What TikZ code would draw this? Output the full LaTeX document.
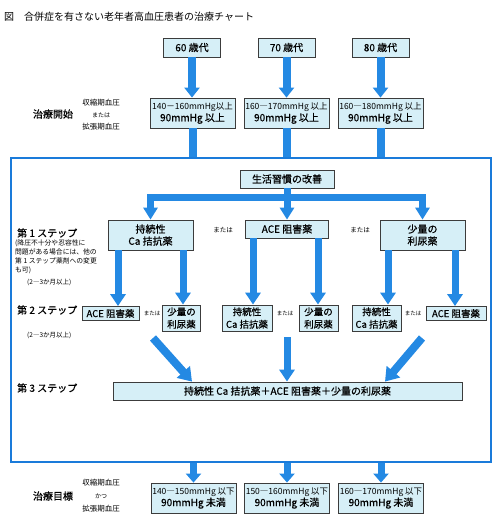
\documentclass[tikz,border=0pt]{standalone}
\usepackage{fontspec}
\setmainfont{Noto Sans CJK JP}
\newfontfamily\medfont{Noto Sans CJK JP}[FakeBold=0.6]
\usetikzlibrary{arrows.meta,calc}
\definecolor{ablue}{HTML}{2489E3}
\definecolor{fblue}{HTML}{1A7BDA}
\definecolor{bfill}{HTML}{D6EFF7}
\definecolor{bdraw}{HTML}{3C3C3C}
\newcommand\myfs[2]{\fontsize{#1}{#2}\selectfont}
\begin{document}
\begin{tikzpicture}[x=1pt,y=-1pt,
  box/.style={draw=bdraw, fill=bfill, line width=0.8pt, inner sep=0pt, align=center, font=\medfont\myfs{10}{12}},
  thbox/.style={box, minimum width=85pt, minimum height=30pt},
  s2box/.style={box, font=\medfont\myfs{9.5}{12.5}},
  lab/.style={inner sep=0pt},
  bigarr/.style={draw=ablue, line width=8pt, -{Triangle[width=15pt,length=10pt]}},
  barline/.style={draw=ablue, line width=8pt},
  distarr/.style={draw=ablue, line width=7pt, line join=miter, -{Triangle[width=14pt,length=12pt]}},
  steparr/.style={draw=ablue, line width=7pt, -{Triangle[width=15pt,length=12pt]}},
  diagarr/.style={draw=ablue, line width=8pt, -{Triangle[width=17pt,length=13pt]}},
  botarr/.style={draw=ablue, line width=7pt, -{Triangle[width=15pt,length=9pt]}}
]
\useasboundingbox (0,0) rectangle (500,522);

% title
\node[lab, anchor=west, font=\myfs{10}{12}] (title) at (4,17) {図　合併症を有さない老年者高血圧患者の治療チャート};

% age boxes
\node[box, minimum width=57pt, minimum height=19pt] (a1) at (192,47.5) {60 歳代};
\node[box, minimum width=57pt, minimum height=19pt] (a2) at (286.5,47.5) {70 歳代};
\node[box, minimum width=57pt, minimum height=19pt] (a3) at (380.5,47.5) {80 歳代};

% thresholds
\node[thbox] (t1) at (192.5,113) {{\rmfamily\myfs{8.5}{12}140－160mmHg以上}\\90mmHg 以上};
\node[thbox] (t2) at (286.5,113) {{\rmfamily\myfs{8.5}{12}160―170mmHg 以上}\\90mmHg 以上};
\node[thbox] (t3) at (380.5,113) {{\rmfamily\myfs{8.5}{12}160―180mmHg 以上}\\90mmHg 以上};

\draw[bigarr] (a1.south) -- (a1.south |- t1.north);
\draw[bigarr] (a2.south) -- (a2.south |- t2.north);
\draw[bigarr] (a3.south) -- (a3.south |- t3.north);

\node[lab, font=\medfont\myfs{10}{12}] (kaishi) at (53,114) {治療開始};
\node[lab, font=\myfs{7.5}{9}] (k1) at (101,103) {収縮期血圧};
\node[lab, font=\myfs{6}{8}] (k2) at (101,115) {または};
\node[lab, font=\myfs{7.5}{9}] (k3) at (101,127) {拡張期血圧};

% frame
\node[draw=fblue, line width=2pt, minimum width=480pt, minimum height=304pt, inner sep=0pt] (frame) at (251,310) {};
\draw[barline] (t1.south) -- (t1.south |- frame.north);
\draw[barline] (t2.south) -- (t2.south |- frame.north);
\draw[barline] (t3.south) -- (t3.south |- frame.north);

% lifestyle
\node[box, minimum width=94pt, minimum height=18pt] (life) at (287,179) {生活習慣の改善};
\coordinate (hub) at (287,197);

% step 1
\node[box, minimum width=85pt, minimum height=30pt] (s1a) at (150.5,235) {持続性\\Ca 拮抗薬};
\node[box, minimum width=83pt, minimum height=18pt] (s1b) at (287,229) {ACE 阻害薬};
\node[box, minimum width=85pt, minimum height=30pt] (s1c) at (422.5,235) {少量の\\利尿薬};
\node[lab, font=\myfs{6.5}{8}] (or1) at (223,230) {または};
\node[lab, font=\myfs{6.5}{8}] (or2) at (360,230) {または};

\draw[distarr] (life.south) -- (hub) -| (s1a.north);
\draw[distarr] (life.south) -- (hub) -| (s1c.north);
\draw[distarr] (life.south) -- (s1b.north);

% step 2
\node[s2box, minimum width=57pt, minimum height=14pt] (s2a) at (110.5,313.5) {ACE 阻害薬};
\node[s2box, minimum width=38pt, minimum height=26pt] (s2b) at (181.5,318) {少量の\\利尿薬};
\node[s2box, minimum width=50pt, minimum height=26pt] (s2c) at (247,318) {持続性\\Ca 拮抗薬};
\node[s2box, minimum width=39pt, minimum height=26pt] (s2d) at (318.5,318) {少量の\\利尿薬};
\node[s2box, minimum width=49pt, minimum height=26pt] (s2e) at (376.5,318) {持続性\\Ca 拮抗薬};
\node[s2box, minimum width=60pt, minimum height=14pt] (s2f) at (456,313.5) {ACE 阻害薬};
\node[lab, font=\myfs{5.5}{7}] (or3) at (152,313) {または};
\node[lab, font=\myfs{5.5}{7}] (or4) at (285,313) {または};
\node[lab, font=\myfs{5.5}{7}] (or5) at (413,313) {または};

\draw[steparr] ([xshift=-32.5pt]s1a.south) -- ([xshift=-32.5pt]s1a.south |- s2a.north);
\draw[steparr] ([xshift=32.5pt]s1a.south) -- ([xshift=32.5pt]s1a.south |- s2b.north);
\draw[steparr] ([xshift=-34pt]s1b.south) -- ([xshift=-34pt]s1b.south |- s2c.north);
\draw[steparr] ([xshift=31pt]s1b.south) -- ([xshift=31pt]s1b.south |- s2d.north);
\draw[steparr] ([xshift=-34.5pt]s1c.south) -- ([xshift=-34.5pt]s1c.south |- s2e.north);
\draw[steparr] ([xshift=32.5pt]s1c.south) -- ([xshift=32.5pt]s1c.south |- s2f.north);

% step 3
\node[box, minimum width=349pt, minimum height=18pt] (s3) at (287.5,391) {持続性 Ca 拮抗薬＋ACE 阻害薬＋少量の利尿薬};
\coordinate (d1) at (153,338);
\coordinate (d2) at (287,337);
\coordinate (d3) at (422,338);
\draw[diagarr] (d1) -- ([xshift=-95.5pt]s3.north);
\draw[steparr] (d2) -- (d2 |- s3.north);
\draw[diagarr] (d3) -- ([xshift=97.5pt]s3.north);

% left step labels
\node[lab, anchor=west, font=\medfont\myfs{10}{12}] (st1) at (17,233) {第 1 ステップ};
\node[lab, anchor=north west, align=left, font=\myfs{6.8}{9}] (note) at (15,240) {(降圧不十分や忍容性に\\問題がある場合には、他の\\第 1 ステップ薬剤への変更\\も可)};
\node[lab, anchor=west, font=\myfs{6.5}{8}] (p1) at (27,282) {(2―3か月以上)};
\node[lab, anchor=west, font=\medfont\myfs{10}{12}] (st2) at (17,310) {第 2 ステップ};
\node[lab, anchor=west, font=\myfs{6.5}{8}] (p2) at (27,335) {(2―3か月以上)};
\node[lab, anchor=west, font=\medfont\myfs{10}{12}] (st3) at (17,388) {第 3 ステップ};

% bottom targets
\node[thbox] (b1) at (193.5,498) {{\rmfamily\myfs{8.5}{12}140―150mmHg 以下}\\90mmHg 未満};
\node[thbox] (b2) at (287,498) {{\rmfamily\myfs{8.5}{12}150―160mmHg 以下}\\90mmHg 未満};
\node[thbox] (b3) at (381,498) {{\rmfamily\myfs{8.5}{12}160―170mmHg 以下}\\90mmHg 未満};
\draw[botarr] (frame.south -| b1.north) -- (b1.north);
\draw[botarr] (frame.south -| b2.north) -- (b2.north);
\draw[botarr] (frame.south -| b3.north) -- (b3.north);

\node[lab, font=\medfont\myfs{10}{12}] (mokuhyo) at (53,496) {治療目標};
\node[lab, font=\myfs{7.5}{9}] (m1) at (101,483) {収縮期血圧};
\node[lab, font=\myfs{6}{8}] (m2) at (101,496) {かつ};
\node[lab, font=\myfs{7.5}{9}] (m3) at (101,509) {拡張期血圧};
\end{tikzpicture}
\end{document}
